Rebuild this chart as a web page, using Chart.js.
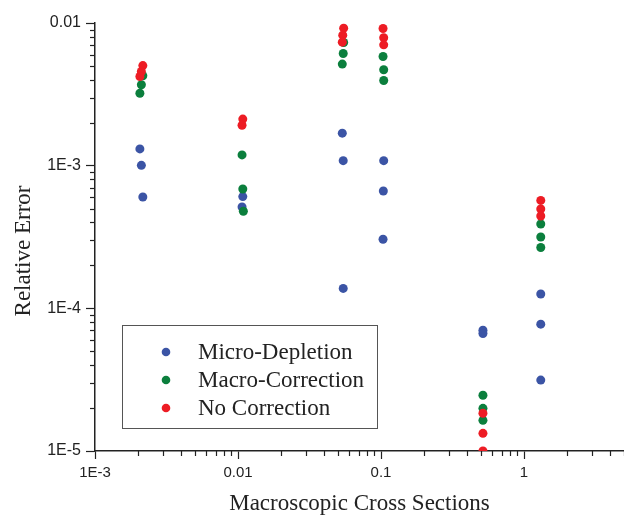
<!DOCTYPE html>
<html>
<head>
<meta charset="utf-8">
<script src="https://cdn.jsdelivr.net/npm/chart.js@4.4.0/dist/chart.umd.min.js"></script>
<style>
  body { margin: 0; background: #fff; }
</style>
</head>
<body>
<canvas id="chart" width="624" height="515"></canvas>
<script>
// values
const microX = [0.00206, 0.00211, 0.00216, 0.0108, 0.01067, 0.0536, 0.0544, 0.0544, 0.1044, 0.1038, 0.1033, 0.516, 0.516, 1.309, 1.309, 1.309];
const microY = [1.31e-3, 1.005e-3, 6.03e-4, 6.07e-4, 5.13e-4, 1.69e-3, 1.084e-3, 1.38e-4, 1.084e-3, 6.64e-4, 3.05e-4, 7.03e-5, 6.66e-5, 1.26e-4, 7.75e-5, 3.14e-5];

const macroX = [0.00216, 0.00211, 0.00206, 0.01067, 0.0108, 0.0109, 0.0548, 0.0544, 0.0536, 0.1033, 0.1044, 0.1044, 0.516, 0.516, 0.516, 1.309, 1.309, 1.309];
const macroY = [4.27e-3, 3.69e-3, 3.22e-3, 1.19e-3, 6.86e-4, 4.79e-4, 7.3e-3, 6.11e-3, 5.15e-3, 5.82e-3, 4.7e-3, 3.95e-3, 2.46e-5, 1.99e-5, 1.64e-5, 3.9e-4, 3.16e-4, 2.67e-4];

const noCorrX = [0.00216, 0.00211, 0.00206, 0.0108, 0.01067, 0.0548, 0.054, 0.0536, 0.1033, 0.1044, 0.1044, 0.516, 0.516, 0.516, 1.309, 1.309, 1.309];
const noCorrY = [5.03e-3, 4.57e-3, 4.22e-3, 2.12e-3, 1.92e-3, 9.2e-3, 8.22e-3, 7.34e-3, 9.15e-3, 7.88e-3, 7.03e-3, 1.84e-5, 1.33e-5, 1.0e-5, 5.71e-4, 4.97e-4, 4.44e-4];

const seriesNames = ['Micro-Depletion', 'Macro-Correction', 'No Correction'];
const seriesColors = ['#3b54a5', '#0b7f3d', '#ed1c24'];

const xTickValues = [0.001, 0.01, 0.1, 1];
const xTickLabels = ['1E-3', '0.01', '0.1', '1'];
const yTickValues = [1e-5, 1e-4, 1e-3, 0.01];
const yTickLabels = ['1E-5', '1E-4', '1E-3', '0.01'];

const ink = '#222';
const serif = '"Liberation Serif", "Times New Roman", serif';

function toPoints(xs, ys) {
    return xs.map((x, i) => ({ x: x, y: ys[i] }));
}

function isMajor(v) {
    const l = Math.log10(v);
    return Math.abs(l - Math.round(l)) < 1e-6;
}

// 1..9 x 10^n ticks between min and max
function logTicks(scale) {
    const ticks = [];
    const lo = Math.floor(Math.log10(scale.min));
    const hi = Math.ceil(Math.log10(scale.max));
    for (let d = lo; d <= hi; d++) {
        for (let m = 1; m <= 9; m++) {
            const v = Number((m * Math.pow(10, d)).toPrecision(6));
            if (v >= scale.min * 0.9999 && v <= scale.max * 1.0001) ticks.push({ value: v, major: m === 1 });
        }
    }
    scale.ticks = ticks;
}

function labelFor(values, labels) {
    return function (value) {
        if (!isMajor(value)) return '';
        const i = values.findIndex(v => Math.abs(Math.log10(v) - Math.log10(value)) < 1e-6);
        return i >= 0 ? labels[i] : '';
    };
}

// short minor ticks, y axis title and the boxed legend
const extras = {
    id: 'extras',
    afterDraw(chart) {
        const ctx = chart.ctx;
        const xs = chart.scales.x, ys = chart.scales.y;
        const area = chart.chartArea;
        ctx.save();
        ctx.strokeStyle = ink;
        ctx.lineWidth = 1.2;
        xs.ticks.forEach(t => {
            if (isMajor(t.value)) return;
            const px = Math.round(xs.getPixelForValue(t.value)) + 0.5;
            ctx.beginPath();
            ctx.moveTo(px, area.bottom);
            ctx.lineTo(px, area.bottom + 5);
            ctx.stroke();
        });
        ys.ticks.forEach(t => {
            if (isMajor(t.value)) return;
            const py = Math.round(ys.getPixelForValue(t.value)) + 0.5;
            ctx.beginPath();
            ctx.moveTo(area.left, py);
            ctx.lineTo(area.left - 5, py);
            ctx.stroke();
        });

        // y title
        ctx.fillStyle = ink;
        ctx.font = '23px ' + serif;
        ctx.textAlign = 'center';
        ctx.textBaseline = 'middle';
        ctx.translate(24, 251);
        ctx.rotate(-Math.PI / 2);
        ctx.fillText('Relative Error', 0, 0);
        ctx.setTransform(1, 0, 0, 1, 0, 0);

        // legend
        ctx.strokeStyle = '#555';
        ctx.lineWidth = 1;
        ctx.strokeRect(122.5, 325.5, 255, 103);
        ctx.textAlign = 'left';
        chart.data.datasets.forEach((ds, i) => {
            const cy = 352 + i * 28;
            ctx.fillStyle = ds.backgroundColor;
            ctx.beginPath();
            ctx.arc(166, cy, 4.3, 0, Math.PI * 2);
            ctx.fill();
            ctx.fillStyle = ink;
            ctx.fillText(ds.label, 198, cy + 1);
        });
        ctx.restore();
    }
};

const tickFont = { family: '"Liberation Sans", Arial, sans-serif', size: 16 };

new Chart(document.getElementById('chart'), {
    type: 'scatter',
    data: {
        datasets: [
            { label: seriesNames[0], data: toPoints(microX, microY), backgroundColor: seriesColors[0], borderColor: seriesColors[0], pointRadius: 4.5, borderWidth: 0, order: 2 },
            { label: seriesNames[1], data: toPoints(macroX, macroY), backgroundColor: seriesColors[1], borderColor: seriesColors[1], pointRadius: 4.5, borderWidth: 0, order: 1 },
            { label: seriesNames[2], data: toPoints(noCorrX, noCorrY), backgroundColor: seriesColors[2], borderColor: seriesColors[2], pointRadius: 4.5, borderWidth: 0, order: 0 }
        ]
    },
    options: {
        responsive: false,
        animation: false,
        layout: { autoPadding: false, padding: { top: 23, right: 0, left: 0, bottom: 0 } },
        plugins: {
            legend: { display: false },
            tooltip: { enabled: false }
        },
        scales: {
            x: {
                type: 'logarithmic',
                min: 0.001,
                max: 5,
                afterBuildTicks: logTicks,
                afterFit: s => { s.height = 64; s.paddingRight = 0; s.paddingLeft = 0; },
                border: { display: true, color: ink, width: 1.5 },
                grid: {
                    drawOnChartArea: false,
                    drawTicks: true,
                    tickLength: 8,
                    tickWidth: 1.2,
                    tickColor: c => (c.tick && isMajor(c.tick.value)) ? ink : 'rgba(0,0,0,0)'
                },
                ticks: {
                    autoSkip: false,
                    maxRotation: 0,
                    padding: 5,
                    color: ink,
                    font: { family: tickFont.family, size: 15 },
                    callback: labelFor(xTickValues, xTickLabels)
                },
                title: {
                    display: true,
                    text: 'Macroscopic Cross Sections',
                    color: ink,
                    padding: { top: 0, bottom: 0 },
                    font: { family: serif, size: 23, lineHeight: 1.0 }
                }
            },
            y: {
                type: 'logarithmic',
                min: 1e-5,
                max: 0.01,
                afterBuildTicks: logTicks,
                afterFit: s => { s.width = 95; s.paddingTop = 0; s.paddingBottom = 0; },
                border: { display: true, color: ink, width: 1.5 },
                grid: {
                    drawOnChartArea: false,
                    drawTicks: true,
                    tickLength: 9,
                    tickWidth: 1.2,
                    tickColor: c => (c.tick && isMajor(c.tick.value)) ? ink : 'rgba(0,0,0,0)'
                },
                ticks: {
                    autoSkip: false,
                    padding: 5,
                    color: ink,
                    font: tickFont,
                    callback: labelFor(yTickValues, yTickLabels)
                }
            }
        }
    },
    plugins: [extras]
});
</script>
</body>
</html>
